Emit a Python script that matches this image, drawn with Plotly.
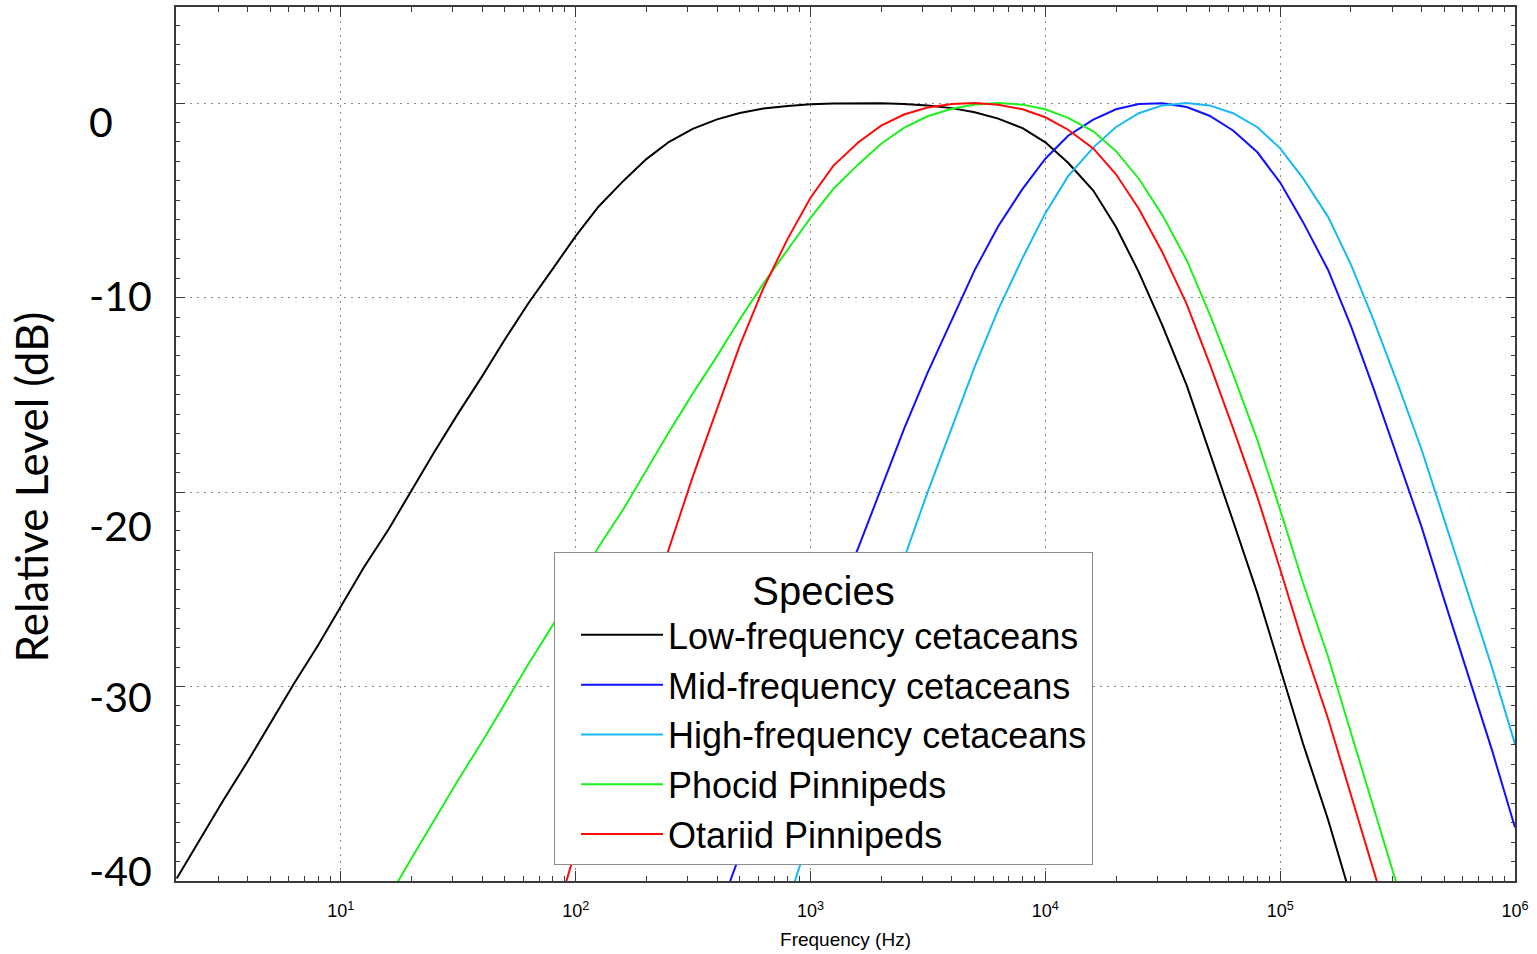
import plotly.graph_objects as go

# Frequency points (Hz), 10 per decade
freq_hz = [2, 2.5, 3.15, 4, 5, 6.3, 8,
           10, 12.5, 16, 20, 25, 31.5, 40, 50, 63, 80,
           100, 125, 160, 200, 250, 315, 400, 500, 630, 800,
           1000, 1250, 1600, 2000, 2500, 3150, 4000, 5000, 6300, 8000,
           10000, 12500, 16000, 20000, 25000, 31500, 40000, 50000, 63000, 80000,
           100000, 125000, 160000, 200000, 250000, 315000, 400000, 500000, 630000, 800000,
           1000000]

N = None
low_freq_cetaceans = [-39.87, -37.87, -35.87, -33.87, -31.87, -29.87, -27.88, -25.88, -23.89, -21.90,
                      -19.91, -17.94, -15.98, -14.04, -12.14, -10.28, -8.51, -6.84, -5.33, -3.99,
                      -2.88, -1.99, -1.33, -0.84, -0.51, -0.28, -0.15, -0.06, -0.02, 0.00,
                      -0.01, -0.05, -0.13, -0.26, -0.47, -0.80, -1.29, -2.02, -3.07, -4.50,
                      -6.37, -8.69, -11.43, -14.52, -17.90, -21.49, -25.21, -29.03, -32.92, -36.85,
                      -40.80, -44.77, N, N, N, N, N, N]

mid_freq_cetaceans = [N] * 22 + [-45.03, -41.84, -38.65, -35.46, -32.28, -29.11, -25.97, -22.85, -19.77, -16.77,
                                 -13.87, -11.13, -8.59, -6.33, -4.41, -2.86, -1.68, -0.85, -0.32, -0.05,
                                 -0.01, -0.20, -0.65, -1.41, -2.53, -4.09, -6.11, -8.58, -11.46, -14.68,
                                 -18.14, -21.79, -25.56, -29.41, -33.31, -37.25]

high_freq_cetaceans = [N] * 25 + [-44.71, -41.12, -37.54, -33.98, -30.43, -26.91, -23.43, -20.02, -16.71, -13.56,
                                  -10.62, -7.96, -5.66, -3.76, -2.29, -1.23, -0.52, -0.12, 0.00, -0.12,
                                  -0.52, -1.24, -2.33, -3.86, -5.85, -8.30, -11.16, -14.36, -17.81, -21.45,
                                  -25.22, -29.06, -32.96]

phocid_pinnipeds = [N] * 8 + [-42.83, -40.83, -38.83, -36.83, -34.83, -32.83, -30.83, -28.83, -26.83, -24.84,
                              -22.84, -20.86, -18.87, -16.90, -14.94, -13.01, -11.12, -9.28, -7.53, -5.90,
                              -4.42, -3.14, -2.09, -1.28, -0.68, -0.29, -0.07, 0.00, -0.08, -0.32,
                              -0.76, -1.45, -2.47, -3.89, -5.76, -8.08, -10.83, -13.94, -17.33, -20.92,
                              -24.65, -28.47, -32.36, -36.29, -40.24, -44.21] + [N] * 4

otariid_pinnipeds = [N] * 15 + [-46.32, -42.35, -38.38, -34.44, -30.53, -26.67, -22.88, -19.22, -15.72, -12.46,
                                -9.52, -6.97, -4.87, -3.23, -2.01, -1.16, -0.59, -0.23, -0.05, 0.00,
                                -0.09, -0.32, -0.73, -1.37, -2.33, -3.66, -5.43, -7.67, -10.34, -13.38,
                                -16.71, -20.26, -23.97, -27.78, -31.66, -35.58, -39.53, -43.50] + [N] * 5

series_names = ["Low-frequency cetaceans", "Mid-frequency cetaceans", "High-frequency cetaceans",
                "Phocid Pinnipeds", "Otariid Pinnipeds"]
series_values = [low_freq_cetaceans, mid_freq_cetaceans, high_freq_cetaceans,
                 phocid_pinnipeds, otariid_pinnipeds]
series_colors = ["#000000", "#1010ff", "#18b8f5", "#1ef01e", "#ff0a0a"]

x_tick_vals = [10, 100, 1000, 10000, 100000, 1000000]
x_tick_text = ["10<sup>1</sup>", "10<sup>2</sup>", "10<sup>3</sup>", "10<sup>4</sup>",
               "10<sup>5</sup>", "10<sup>6</sup>"]
x_minor_vals = [m * 10 ** e for e in range(0, 6) for m in range(2, 10)]

y_tick_vals = [0, -10, -20, -30, -40]
y_tick_text = ["0", "-10", "-20", "-30", "-40"]
y_label_shift = [-18, 2, -33, -10, 11]
y_title = "Relative Level (dB)"

fig = go.Figure()
for name, vals, col in zip(series_names, series_values, series_colors):
    fig.add_trace(go.Scatter(x=freq_hz, y=vals, mode="lines", name=name,
                             line=dict(color=col, width=2)))

axis_col = "#3a3a3a"
fig.update_xaxes(
    type="log", range=[0.298, 6.0],
    tickmode="array", tickvals=x_tick_vals, ticktext=x_tick_text,
    tickfont=dict(family="Liberation Sans, Arial, sans-serif", size=18, color="black"),
    ticklabelstandoff=13,
    ticks="inside", ticklen=10, tickwidth=1, tickcolor=axis_col,
    minor=dict(tickmode="array", tickvals=x_minor_vals, ticks="inside", ticklen=5,
               tickwidth=1, tickcolor=axis_col, showgrid=False),
    showline=True, linecolor=axis_col, linewidth=1.5, mirror="ticks",
    showgrid=True, gridcolor="#8a8a8a", gridwidth=1, griddash="2px,5px",
    zeroline=False,
    title=dict(text="Frequency (Hz)", standoff=12,
               font=dict(family="Liberation Sans, Arial, sans-serif", size=19, color="black")),
)
fig.update_yaxes(
    range=[-40, 4.94], tickmode="array", tickvals=y_tick_vals,
    showticklabels=False,
    ticks="inside", ticklen=9, tickwidth=1, tickcolor=axis_col,
    minor=dict(dtick=1, tick0=0, ticks="inside", ticklen=4, tickwidth=1, tickcolor=axis_col,
               showgrid=False),
    showline=True, linecolor=axis_col, linewidth=1.5, mirror="ticks",
    showgrid=True, gridcolor="#8a8a8a", gridwidth=1, griddash="2px,5px",
    zeroline=False,
)

for v, t, s in zip(y_tick_vals, y_tick_text, y_label_shift):
    fig.add_annotation(x=-0.0664, xref="paper", y=v, yref="y", yshift=s,
                       text=t, showarrow=False, xanchor="left", yanchor="middle",
                       font=dict(family="Lato, Open Sans, sans-serif", size=41, color="black"))

# y-axis title
fig.add_annotation(x=-0.1080, xref="paper", y=0.4508, yref="paper",
                   text=y_title, textangle=-90, showarrow=False,
                   xanchor="center", yanchor="middle",
                   font=dict(family="Lato, Open Sans, sans-serif", size=44, color="black"))

fig.update_layout(
    width=1537, height=954, autosize=False,
    margin=dict(l=176, r=22, t=7, b=73, autoexpand=False),
    plot_bgcolor="white", paper_bgcolor="white",
    showlegend=True,
    legend=dict(x=0.2823, y=0.3765, xanchor="left", yanchor="top",
                orientation="v", indentation=21, itemwidth=82,
                bgcolor="white", bordercolor="#8c8c8c", borderwidth=1,
                font=dict(family="Liberation Sans, Arial, sans-serif", size=36, color="black"),
                title=dict(text="Species", side="top center",
                           font=dict(family="Liberation Sans, Arial, sans-serif", size=40, color="black")),
                tracegroupgap=0),
)

fig.write_html("out.html")
